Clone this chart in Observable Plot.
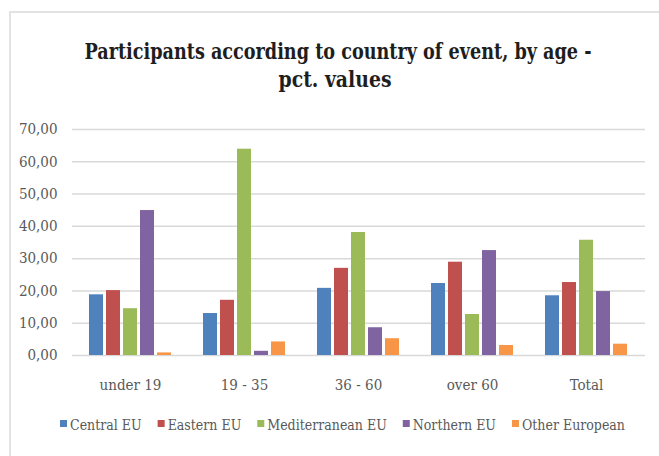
<!DOCTYPE html>
<html>
<head>
<meta charset="utf-8">
<script src="https://cdn.jsdelivr.net/npm/d3@7"></script>
<script src="https://cdn.jsdelivr.net/npm/@observablehq/plot@0.6"></script>
<style>
  html, body { margin: 0; padding: 0; background: #fff; }
  #wrap { position: relative; width: 659px; height: 456px; overflow: hidden; background: #fff; }
  #frame { position: absolute; left: 9px; top: 11px; width: 700px; height: 500px;
           border-left: 2px solid #e2e2e2; border-top: 2px solid #e2e2e2; }
  #title, #chart, #legend { position: absolute; left: 0; }
  #title { top: 0; }
  #chart { top: 115px; width: 659px; height: 290px; }
  #chart svg { position: absolute; left: 0; top: 0; }
  #legend { top: 405px; }
  svg text { font-family: "DejaVu Serif Condensed", "DejaVu Serif", serif; }
</style>
</head>
<body>
<div id="wrap">
  <div id="frame"></div>
  <svg id="title" width="659" height="115"></svg>
  <div id="chart"></div>
  <svg id="legend" width="659" height="51"></svg>
</div>
<script>
// ---- data ----
const titleLines = ["Participants according to country of event, by age -", "pct. values"];
const ages = ["under 19", "19 - 35", "36 - 60", "over 60", "Total"];
const regions = ["Central EU", "Eastern EU", "Mediterranean EU", "Northern EU", "Other European"];
const centralEU       = [18.8, 13.0, 20.8, 22.3, 18.5];
const easternEU       = [20.1, 17.1, 27.0, 28.9, 22.6];
const mediterraneanEU = [14.5, 63.9, 38.1, 12.7, 35.7];
const northernEU      = [44.9,  1.3,  8.6, 32.5, 19.8];
const otherEuropean   = [ 0.8,  4.2,  5.2,  3.1,  3.5];
const yTicks = [0, 10, 20, 30, 40, 50, 60, 70];
const colors = ["#4F81BD", "#C0504D", "#9BBB59", "#8064A2", "#F79646"];

const series = [centralEU, easternEU, mediterraneanEU, northernEU, otherEuropean];
const data = [];
regions.forEach((r, i) => ages.forEach((a, j) => data.push({age: a, region: r, value: series[i][j]})));

// ---- title ----
const tsvg = d3.select("#title");
const tl = [
  {x: 338, y: 59, len: 507},
  {x: 335, y: 87, len: 113}
];
titleLines.forEach((t, i) => {
  tsvg.append("text")
    .attr("x", tl[i].x).attr("y", tl[i].y)
    .attr("text-anchor", "middle")
    .attr("font-size", 22).attr("font-weight", "bold").attr("fill", "#1e1e1e")
    .attr("textLength", tl[i].len).attr("lengthAdjust", "spacingAndGlyphs")
    .text(t);
});

// ---- chart (shared layout) ----
const fmt = d => d.toFixed(2).replace(".", ",");
const common = {
  width: 659,
  height: 290,
  marginTop: 14,
  marginBottom: 50,
  marginLeft: 72,
  marginRight: 14,
  style: {background: "transparent", color: "#595959", fontSize: "15px"}
};

// background: continuous gridlines and y axis
const back = Plot.plot({
  ...common,
  x: {domain: [0, 1], axis: null},
  y: {domain: [0, 70], label: null},
  marks: [
    Plot.gridY(yTicks, {stroke: "#d9d9d9", strokeOpacity: 1, strokeWidth: 1.5}),
    Plot.axisY({ticks: yTicks, tickSize: 0, tickPadding: 15, tickFormat: fmt, label: null, fontSize: 15})
  ]
});

// foreground: grouped bars and category axis
const front = Plot.plot({
  ...common,
  fx: {domain: ages, paddingInner: 0.26, paddingOuter: 0.13, label: null},
  x: {domain: regions, paddingInner: 0.2, paddingOuter: 0, axis: null},
  y: {domain: [0, 70], axis: null},
  color: {domain: regions, range: colors},
  marks: [
    Plot.axisFx({anchor: "bottom", tickSize: 0, tickPadding: 24, label: null, fontSize: 15}),
    Plot.barY(data, {fx: "age", x: "region", y: "value", fill: "region"})
  ]
});
const host = document.getElementById("chart");
host.appendChild(back);
host.appendChild(front);

// ---- legend ----
const lsvg = d3.select("#legend");
let lx = 60;
const sq = 7, gapIn = 3, gapOut = 16, cy = 20;
regions.forEach((r, i) => {
  lsvg.append("rect").attr("x", lx).attr("y", cy - 5).attr("width", sq).attr("height", sq).attr("fill", colors[i]);
  const t = lsvg.append("text")
    .attr("x", lx + sq + gapIn).attr("y", cy).attr("dy", "0.35em")
    .attr("font-size", 14).attr("fill", "#595959")
    .text(r);
  const w = t.node().getComputedTextLength();
  lx += sq + gapIn + w + gapOut;
});
</script>
</body>
</html>
